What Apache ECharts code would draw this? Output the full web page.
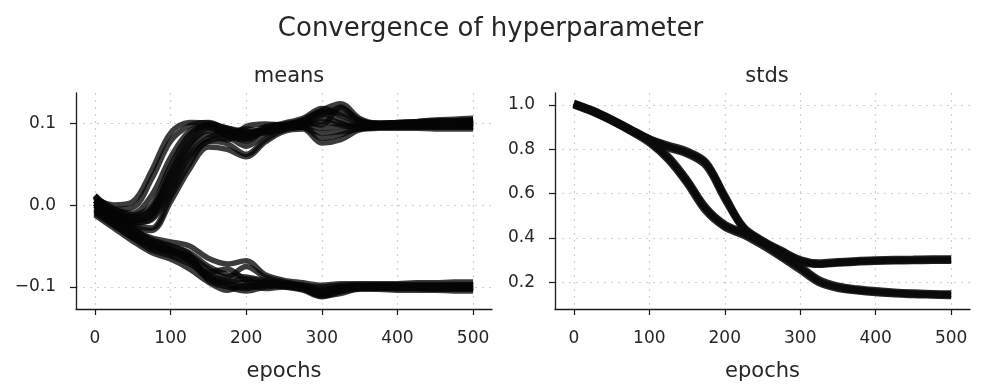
<!DOCTYPE html>
<html>
<head>
<meta charset="utf-8">
<script src="https://cdn.jsdelivr.net/npm/echarts@6/dist/echarts.min.js"></script>
<style>
html,body{margin:0;padding:0;background:#fff;}
#chart{width:981px;height:387px;}
</style>
</head>
<body>
<div id="chart"></div>
<script>
// ---------- data ----------
const mainTitle = "Convergence of hyperparameter";
const subTitles = ["means", "stds"];
const xLabel = "epochs";
const epochs = [0,25,50,75,100,125,150,175,200,225,250,275,300,325,350,375,400,425,450,475,500];
const xTicks = [0,100,200,300,400,500];
const meansTicks = [-0.1, 0.0, 0.1];
const stdsTicks = [0.2, 0.4, 0.6, 0.8, 1.0];

// means: trajectories converging to +0.1
const meanUp1 = [0.008, 0.000, 0.004, 0.042, 0.088, 0.101, 0.100, 0.094, 0.088, 0.093, 0.097, 0.101, 0.110, 0.118, 0.104, 0.099, 0.100, 0.101, 0.102, 0.103, 0.104];
const meanUp2 = [0.000, -0.005, -0.003, 0.032, 0.078, 0.097, 0.101, 0.092, 0.084, 0.090, 0.095, 0.100, 0.112, 0.104, 0.097, 0.097, 0.098, 0.099, 0.099, 0.099, 0.100];
const meanUp3 = [0.006, -0.008, -0.014, -0.004, 0.042, 0.082, 0.098, 0.090, 0.086, 0.096, 0.099, 0.104, 0.116, 0.124, 0.106, 0.100, 0.101, 0.102, 0.104, 0.105, 0.106];
const meanUp4 = [-0.005, -0.012, -0.020, -0.010, 0.032, 0.073, 0.091, 0.088, 0.093, 0.090, 0.094, 0.098, 0.106, 0.100, 0.094, 0.095, 0.096, 0.096, 0.097, 0.097, 0.097];
const meanUp5 = [0.011, -0.010, -0.018, -0.012, 0.026, 0.068, 0.086, 0.080, 0.096, 0.099, 0.098, 0.101, 0.098, 0.120, 0.103, 0.100, 0.100, 0.101, 0.101, 0.102, 0.102];
const meanUp6 = [0.000, -0.012, -0.022, -0.016, 0.020, 0.062, 0.082, 0.088, 0.078, 0.092, 0.096, 0.095, 0.088, 0.090, 0.093, 0.095, 0.095, 0.095, 0.095, 0.095, 0.095];
const meanUp7 = [-0.008, -0.015, -0.025, -0.028, 0.010, 0.050, 0.078, 0.075, 0.062, 0.080, 0.092, 0.095, 0.082, 0.086, 0.094, 0.095, 0.096, 0.096, 0.096, 0.096, 0.096];
const meanUp8 = [0.002, -0.016, -0.027, -0.031, 0.004, 0.044, 0.071, 0.068, 0.059, 0.077, 0.090, 0.093, 0.076, 0.080, 0.092, 0.094, 0.094, 0.094, 0.093, 0.093, 0.093];
const meanUp9 = [0.004, -0.006, -0.010, 0.012, 0.058, 0.090, 0.096, 0.084, 0.080, 0.094, 0.100, 0.106, 0.118, 0.110, 0.100, 0.098, 0.098, 0.099, 0.100, 0.100, 0.101];
const meanUp10 = [0.010, -0.004, -0.012, 0.000, 0.048, 0.086, 0.098, 0.094, 0.090, 0.088, 0.096, 0.104, 0.114, 0.112, 0.102, 0.100, 0.101, 0.102, 0.103, 0.103, 0.104];
const meanUp11 = [-0.002, -0.014, -0.022, -0.018, 0.016, 0.058, 0.078, 0.082, 0.072, 0.086, 0.094, 0.098, 0.094, 0.096, 0.097, 0.098, 0.098, 0.099, 0.099, 0.099, 0.099];
const meanUp12 = [0.006, -0.010, -0.016, -0.006, 0.036, 0.076, 0.094, 0.086, 0.082, 0.090, 0.093, 0.096, 0.102, 0.098, 0.096, 0.097, 0.097, 0.097, 0.098, 0.098, 0.098];
// means: trajectories converging to -0.1
const meanDown1 = [0.005, -0.015, -0.030, -0.040, -0.045, -0.050, -0.065, -0.072, -0.068, -0.085, -0.092, -0.095, -0.098, -0.096, -0.096, -0.096, -0.096, -0.095, -0.095, -0.094, -0.094];
const meanDown2 = [0.000, -0.018, -0.035, -0.045, -0.050, -0.058, -0.075, -0.085, -0.088, -0.092, -0.095, -0.100, -0.105, -0.100, -0.099, -0.099, -0.099, -0.099, -0.099, -0.098, -0.098];
const meanDown3 = [-0.008, -0.022, -0.038, -0.050, -0.055, -0.065, -0.085, -0.092, -0.095, -0.095, -0.098, -0.102, -0.110, -0.104, -0.100, -0.100, -0.100, -0.101, -0.101, -0.101, -0.101];
const meanDown4 = [0.010, -0.012, -0.032, -0.048, -0.060, -0.070, -0.090, -0.098, -0.102, -0.098, -0.100, -0.104, -0.112, -0.106, -0.103, -0.103, -0.104, -0.104, -0.104, -0.105, -0.105];
const meanDown5 = [-0.004, -0.020, -0.035, -0.052, -0.058, -0.062, -0.078, -0.088, -0.075, -0.088, -0.094, -0.098, -0.100, -0.098, -0.097, -0.097, -0.097, -0.097, -0.097, -0.097, -0.097];
const meanDown6 = [0.002, -0.016, -0.030, -0.042, -0.050, -0.060, -0.092, -0.100, -0.105, -0.100, -0.098, -0.100, -0.108, -0.102, -0.101, -0.101, -0.102, -0.102, -0.103, -0.103, -0.103];
const meanDown7 = [-0.010, -0.025, -0.040, -0.055, -0.062, -0.072, -0.082, -0.078, -0.092, -0.096, -0.096, -0.098, -0.104, -0.100, -0.099, -0.098, -0.098, -0.099, -0.099, -0.099, -0.099];
const meanDown8 = [-0.012, -0.028, -0.044, -0.058, -0.066, -0.078, -0.094, -0.104, -0.098, -0.102, -0.100, -0.103, -0.111, -0.108, -0.102, -0.101, -0.101, -0.101, -0.100, -0.100, -0.100];
const meanDown9 = [0.012, -0.010, -0.028, -0.044, -0.054, -0.066, -0.086, -0.094, -0.090, -0.094, -0.097, -0.101, -0.106, -0.103, -0.101, -0.102, -0.102, -0.102, -0.102, -0.102, -0.102];
const meanDown10 = [-0.006, -0.024, -0.040, -0.050, -0.056, -0.068, -0.088, -0.096, -0.100, -0.097, -0.099, -0.101, -0.109, -0.105, -0.100, -0.100, -0.100, -0.100, -0.100, -0.101, -0.101];

// stds: group converging to ~0.30
const stdA1 = [1.005, 0.972, 0.932, 0.888, 0.845, 0.812, 0.785, 0.735, 0.585, 0.445, 0.385, 0.340, 0.298, 0.283, 0.289, 0.294, 0.297, 0.299, 0.300, 0.301, 0.302];
const stdA2 = [1.000, 0.968, 0.928, 0.884, 0.840, 0.805, 0.778, 0.725, 0.575, 0.440, 0.380, 0.335, 0.292, 0.280, 0.286, 0.291, 0.294, 0.296, 0.297, 0.298, 0.299];
const stdA3 = [1.008, 0.976, 0.936, 0.892, 0.848, 0.818, 0.792, 0.742, 0.592, 0.450, 0.390, 0.345, 0.303, 0.288, 0.294, 0.299, 0.302, 0.304, 0.305, 0.306, 0.306];
// stds: group converging to ~0.14
const stdB1 = [1.003, 0.970, 0.930, 0.886, 0.835, 0.760, 0.655, 0.530, 0.455, 0.420, 0.375, 0.320, 0.265, 0.205, 0.178, 0.166, 0.158, 0.152, 0.148, 0.146, 0.144];
const stdB2 = [0.998, 0.966, 0.926, 0.880, 0.828, 0.752, 0.645, 0.520, 0.448, 0.412, 0.365, 0.312, 0.255, 0.198, 0.172, 0.161, 0.153, 0.148, 0.144, 0.142, 0.140];
const stdB3 = [1.006, 0.974, 0.934, 0.890, 0.840, 0.768, 0.663, 0.538, 0.462, 0.426, 0.382, 0.328, 0.272, 0.212, 0.184, 0.171, 0.163, 0.157, 0.153, 0.150, 0.149];

const meanSeries = [meanUp1, meanUp2, meanUp3, meanUp4, meanUp5, meanUp6, meanUp7, meanUp8, meanUp9, meanUp10, meanUp11, meanUp12,
                    meanDown1, meanDown2, meanDown3, meanDown4, meanDown5, meanDown6, meanDown7, meanDown8, meanDown9, meanDown10];
const stdSeries = [stdA1, stdA2, stdA3, stdB1, stdB2, stdB3];

// ---------- chart ----------
const FONT = "DejaVu Sans";
const chart = echarts.init(document.getElementById('chart'), null, {renderer: 'canvas'});

function fmtNum(v) {
  const s = Number(v).toFixed(1);
  return s.replace('-', '\u2212');
}

function makeX(gridIndex) {
  return {
    type: 'value', gridIndex: gridIndex, min: -25, max: 525,
    name: xLabel, nameLocation: 'middle', nameGap: 52,
    nameTextStyle: {fontFamily: FONT, fontSize: 21, color: '#262626'},
    axisLine: {show: true, onZero: false, lineStyle: {color: '#1a1a1a', width: 1.3}},
    axisTick: {show: true, length: 6, inside: false, customValues: xTicks, lineStyle: {color: '#1a1a1a', width: 1.2}},
    axisLabel: {customValues: xTicks, fontFamily: FONT, fontSize: 17, color: '#262626', margin: 21},
    splitLine: {show: true, lineStyle: {color: '#cfcfcf', type: [2, 5], width: 1.2}}
  };
}
function makeY(gridIndex, min, max, ticks) {
  return {
    type: 'value', gridIndex: gridIndex, min: min, max: max,
    axisLine: {show: true, onZero: false, lineStyle: {color: '#1a1a1a', width: 1.3}},
    axisTick: {show: true, length: 6, inside: false, customValues: ticks, lineStyle: {color: '#1a1a1a', width: 1.2}},
    axisLabel: {customValues: ticks, formatter: fmtNum, fontFamily: FONT, fontSize: 17, color: '#262626', margin: 20},
    splitLine: {show: true, lineStyle: {color: '#cfcfcf', type: [2, 5], width: 1.2}}
  };
}

const series = [];
meanSeries.forEach(function (vals) {
  series.push({
    type: 'line', xAxisIndex: 0, yAxisIndex: 0, symbol: 'none', smooth: 0.35,
    lineStyle: {color: 'rgba(5,5,5,0.78)', width: 5.5},
    data: epochs.map(function (e, i) { return [e, vals[i]]; }),
    silent: true, animation: false
  });
});
stdSeries.forEach(function (vals) {
  series.push({
    type: 'line', xAxisIndex: 1, yAxisIndex: 1, symbol: 'none', smooth: 0.35,
    lineStyle: {color: 'rgba(10,10,10,0.88)', width: 7},
    data: epochs.map(function (e, i) { return [e, vals[i]]; }),
    silent: true, animation: false
  });
});

chart.setOption({
  backgroundColor: '#ffffff',
  animation: false,
  title: [
    {text: mainTitle, left: 'center', top: 11, textStyle: {fontFamily: FONT, fontSize: 26, fontWeight: 'normal', color: '#262626'}},
    {text: subTitles[0], left: 284, top: 61, textAlign: 'center', textStyle: {fontFamily: FONT, fontSize: 21, fontWeight: 'normal', color: '#262626'}},
    {text: subTitles[1], left: 762, top: 61, textAlign: 'center', textStyle: {fontFamily: FONT, fontSize: 21, fontWeight: 'normal', color: '#262626'}}
  ],
  grid: [
    {left: 76, right: 489, top: 93, bottom: 74},
    {left: 555, right: 11, top: 93, bottom: 74}
  ],
  xAxis: [makeX(0), makeX(1)],
  yAxis: [makeY(0, -0.127, 0.137, meansTicks), makeY(1, 0.08, 1.053, stdsTicks)],
  series: series
});
</script>
</body>
</html>
